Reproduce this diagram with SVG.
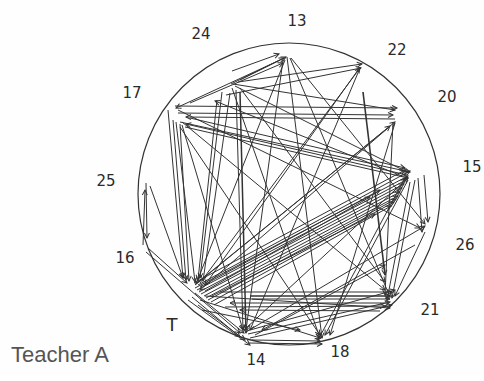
<svg xmlns="http://www.w3.org/2000/svg" width="484" height="381" viewBox="0 0 484 381">
<defs>
<marker id="ah" markerUnits="userSpaceOnUse" markerWidth="8" markerHeight="8" refX="0" refY="0" viewBox="-6 -4 8 8" orient="auto" overflow="visible">
<path d="M-5,-2.5 L0,0 L-5,2.5" fill="none" stroke="#333" stroke-width="1"/>
</marker>
</defs>
<style>
.lbl{font-family:"DejaVu Sans","Noto Sans",sans-serif;font-size:15px;fill:#2a2a2a;text-anchor:middle;dominant-baseline:central}
.ttl{font-family:"Liberation Sans",Arial,sans-serif;font-size:22px;fill:#555}
#connectors line{stroke:#333;stroke-width:1;marker-end:url(#ah)}
.ring{fill:none;stroke:#333;stroke-width:1.2}
</style>
<rect width="484" height="381" fill="#fefefe"/>
<g id="boundary"><circle class="ring" cx="289" cy="194" r="151"/></g>
<g id="connectors">
<line x1="175" y1="106" x2="397" y2="108"/>
<line x1="178" y1="113" x2="393" y2="115"/>
<line x1="395" y1="119" x2="186" y2="117"/>
<line x1="180" y1="122" x2="410" y2="172"/>
<line x1="185" y1="127" x2="408" y2="178"/>
<line x1="190" y1="118" x2="405" y2="168"/>
<line x1="407" y1="175" x2="186" y2="124"/>
<line x1="232" y1="71" x2="279" y2="54"/>
<line x1="231" y1="84" x2="284" y2="58"/>
<line x1="240" y1="80" x2="286" y2="57"/>
<line x1="238" y1="82" x2="362" y2="64"/>
<line x1="226" y1="95" x2="361" y2="68"/>
<line x1="190" y1="103" x2="283" y2="63"/>
<line x1="287" y1="57" x2="322" y2="338"/>
<line x1="285" y1="60" x2="196" y2="284"/>
<line x1="290" y1="58" x2="390" y2="297"/>
<line x1="291" y1="58" x2="425" y2="224"/>
<line x1="280" y1="60" x2="176" y2="108"/>
<line x1="283" y1="60" x2="246" y2="330"/>
<line x1="217" y1="100" x2="198" y2="280"/>
<line x1="222" y1="92" x2="200" y2="278"/>
<line x1="230" y1="93" x2="203" y2="281"/>
<line x1="240" y1="92" x2="246" y2="333" style="stroke-width:1.5"/>
<line x1="236" y1="90" x2="243" y2="330"/>
<line x1="232" y1="88" x2="320" y2="338"/>
<line x1="235" y1="86" x2="407" y2="172"/>
<line x1="240" y1="88" x2="385" y2="282"/>
<line x1="233" y1="84" x2="395" y2="110"/>
<line x1="168" y1="110" x2="183" y2="278"/>
<line x1="173" y1="120" x2="186" y2="280"/>
<line x1="180" y1="124" x2="189" y2="281"/>
<line x1="176" y1="122" x2="195" y2="282"/>
<line x1="182" y1="125" x2="243" y2="330"/>
<line x1="195" y1="288" x2="408" y2="176"/>
<line x1="197" y1="290" x2="406" y2="180"/>
<line x1="199" y1="292" x2="404" y2="184"/>
<line x1="201" y1="294" x2="402" y2="188"/>
<line x1="204" y1="296" x2="400" y2="192"/>
<line x1="206" y1="298" x2="398" y2="196"/>
<line x1="208" y1="300" x2="396" y2="199"/>
<line x1="211" y1="302" x2="394" y2="202"/>
<line x1="198" y1="285" x2="410" y2="171"/>
<line x1="194" y1="283" x2="405" y2="170"/>
<line x1="214" y1="305" x2="391" y2="206"/>
<line x1="200" y1="287" x2="380" y2="190"/>
<line x1="205" y1="291" x2="370" y2="197"/>
<line x1="212" y1="296" x2="375" y2="214"/>
<line x1="195" y1="285" x2="395" y2="122"/>
<line x1="197" y1="283" x2="390" y2="126"/>
<line x1="200" y1="283" x2="360" y2="68"/>
<line x1="250" y1="296" x2="390" y2="296" style="stroke-width:1.4"/>
<line x1="252" y1="299" x2="390" y2="299"/>
<line x1="388" y1="303" x2="230" y2="303"/>
<line x1="225" y1="307" x2="385" y2="306"/>
<line x1="380" y1="311" x2="240" y2="310"/>
<line x1="220" y1="292" x2="392" y2="292"/>
<line x1="248" y1="334" x2="390" y2="302"/>
<line x1="250" y1="338" x2="392" y2="305"/>
<line x1="252" y1="340" x2="320" y2="341"/>
<line x1="248" y1="343" x2="322" y2="344"/>
<line x1="246" y1="332" x2="425" y2="226"/>
<line x1="244" y1="330" x2="408" y2="178"/>
<line x1="250" y1="330" x2="395" y2="290"/>
<line x1="255" y1="335" x2="385" y2="265"/>
<line x1="195" y1="293" x2="244" y2="333"/>
<line x1="192" y1="297" x2="240" y2="337"/>
<line x1="200" y1="300" x2="320" y2="338"/>
<line x1="198" y1="305" x2="245" y2="340"/>
<line x1="205" y1="296" x2="390" y2="308"/>
<line x1="188" y1="300" x2="250" y2="345"/>
<line x1="202" y1="310" x2="300" y2="330"/>
<line x1="146" y1="183" x2="147" y2="238"/>
<line x1="150" y1="186" x2="183" y2="278"/>
<line x1="148" y1="248" x2="187" y2="283"/>
<line x1="146" y1="252" x2="240" y2="333"/>
<line x1="143" y1="245" x2="145" y2="190"/>
<line x1="424" y1="175" x2="428" y2="222"/>
<line x1="418" y1="178" x2="422" y2="232"/>
<line x1="415" y1="180" x2="392" y2="298"/>
<line x1="410" y1="182" x2="387" y2="300"/>
<line x1="408" y1="180" x2="325" y2="335"/>
<line x1="405" y1="178" x2="318" y2="340"/>
<line x1="425" y1="232" x2="395" y2="296"/>
<line x1="415" y1="245" x2="262" y2="330"/>
<line x1="402" y1="176" x2="215" y2="101"/>
<line x1="363" y1="92" x2="385" y2="275" style="stroke-width:1.6"/>
<line x1="395" y1="123" x2="330" y2="335"/>
<line x1="393" y1="122" x2="385" y2="295"/>
<line x1="388" y1="128" x2="200" y2="290"/>
<line x1="360" y1="68" x2="250" y2="330"/>
<line x1="358" y1="70" x2="205" y2="285"/>
<line x1="182" y1="122" x2="385" y2="290"/>
<line x1="180" y1="127" x2="320" y2="335"/>
<line x1="178" y1="110" x2="420" y2="228"/>
</g>
<g id="n13"><text class="lbl" x="297" y="21">13</text></g>
<g id="n24"><text class="lbl" x="201" y="34">24</text></g>
<g id="n22"><text class="lbl" x="397" y="50">22</text></g>
<g id="n20"><text class="lbl" x="447" y="97">20</text></g>
<g id="n15"><text class="lbl" x="472" y="167">15</text></g>
<g id="n17"><text class="lbl" x="132" y="93">17</text></g>
<g id="n25"><text class="lbl" x="106" y="181">25</text></g>
<g id="n16"><text class="lbl" x="125" y="258">16</text></g>
<g id="n26"><text class="lbl" x="465" y="245">26</text></g>
<g id="n21"><text class="lbl" x="430" y="310">21</text></g>
<g id="nT"><text class="lbl" x="172" y="324" style="font-size:18px">T</text></g>
<g id="n14"><text class="lbl" x="256" y="360">14</text></g>
<g id="n18"><text class="lbl" x="340" y="352">18</text></g>
<g id="title"><text class="ttl" x="11" y="362">Teacher A</text></g>
</svg>
